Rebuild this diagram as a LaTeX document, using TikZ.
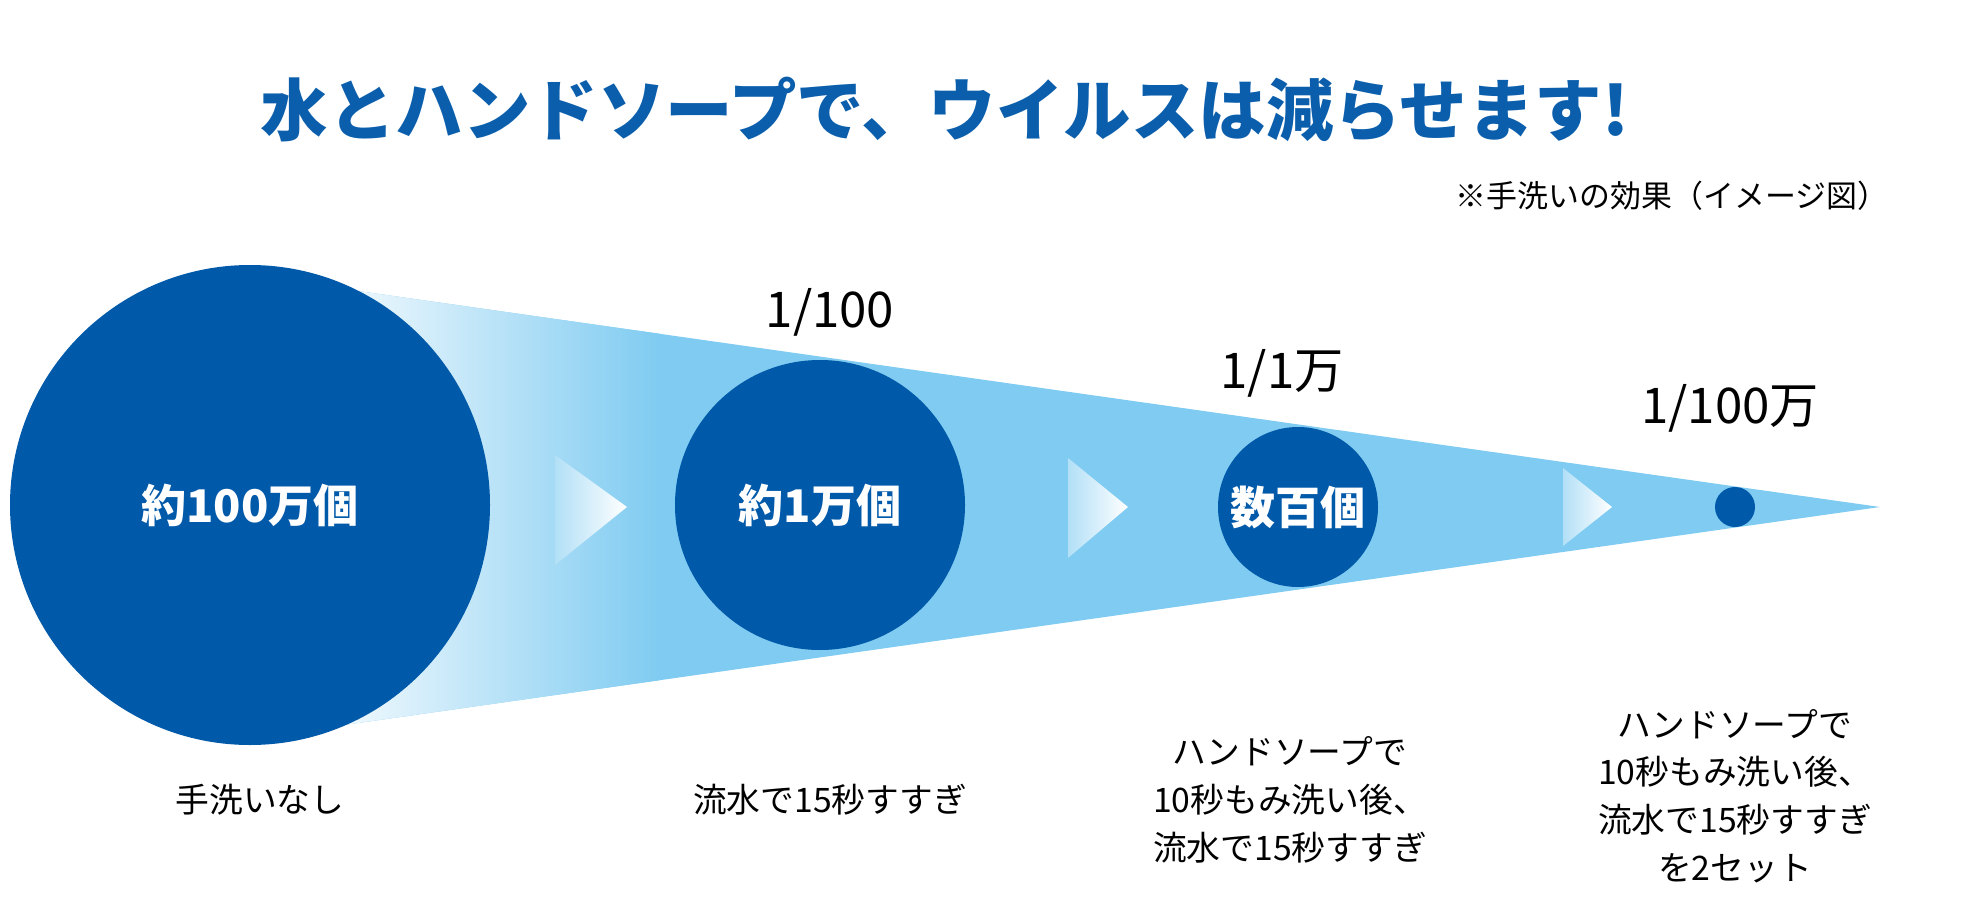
\documentclass[tikz,border=0pt]{standalone}
\usepackage{fontspec}
\setmainfont{Noto Sans CJK JP}
\definecolor{dblue}{HTML}{0059A9}
\definecolor{lblue}{HTML}{7FCBF1}
\definecolor{tblue}{HTML}{0A5EAC}
\begin{document}
\begin{tikzpicture}[x=0.05cm,y=-0.05cm,
  ball/.style={circle,fill=dblue,inner sep=0pt,text=white,font=\fontsize{64}{70}\selectfont\bfseries},
  ratio/.style={font=\fontsize{70}{74}\selectfont},
  captext/.style={font=\fontsize{48}{68}\selectfont, align=center}]
\useasboundingbox (0,0) rectangle (1962,914);
% cone
\fill[lblue] (330,287) -- (1880,507) -- (330,727) -- cycle;
\begin{scope}
\clip (330,287) -- (1880,507) -- (330,727) -- cycle;
\shade[left color=white!95!lblue, right color=lblue] (320,280) rectangle (660,740);
\end{scope}
% chevrons
\shade[left color=lblue!60, right color=white] (555,455) -- (627,507) -- (555,565) -- cycle;
\shade[left color=lblue!60, right color=white] (1068,458) -- (1128,507) -- (1068,558) -- cycle;
\shade[left color=lblue!60, right color=white] (1563,468) -- (1612,507) -- (1563,546) -- cycle;
% circles
\node[ball,minimum size=480*0.05cm] (c1) at (250,505) {約100万個};
\node[ball,minimum size=290*0.05cm] (c2) at (820,505) {約1万個};
\node[ball,minimum size=160*0.05cm] (c3) at (1298,507) {数百個};
\node[ball,minimum size=40*0.05cm] (c4) at (1735,507) {};
% title
\node[text=tblue,font=\fontsize{96}{100}\selectfont\bfseries] (title) at (945,110) {水とハンドソープで、ウイルスは減らせます!};
\node[font=\fontsize{44}{50}\selectfont] (sub) at (1672,196) {※手洗いの効果（イメージ図）};
% ratios
\node[ratio] (r2) at (830,312) {1/100};
\node[ratio] (r3) at (1282,373) {1/1万};
\node[ratio] (r4) at (1730,408) {1/100万};
% captions
\node[captext] (t1) at (260,800) {手洗いなし};
\node[captext] (t2) at (830,800) {流水で15秒すすぎ};
\node[captext] (t3) at (1290,800) {ハンドソープで\\10秒もみ洗い後、\\流水で15秒すすぎ};
\node[captext] (t4) at (1735,796) {ハンドソープで\\10秒もみ洗い後、\\流水で15秒すすぎ\\を2セット};
\end{tikzpicture}
\end{document}
